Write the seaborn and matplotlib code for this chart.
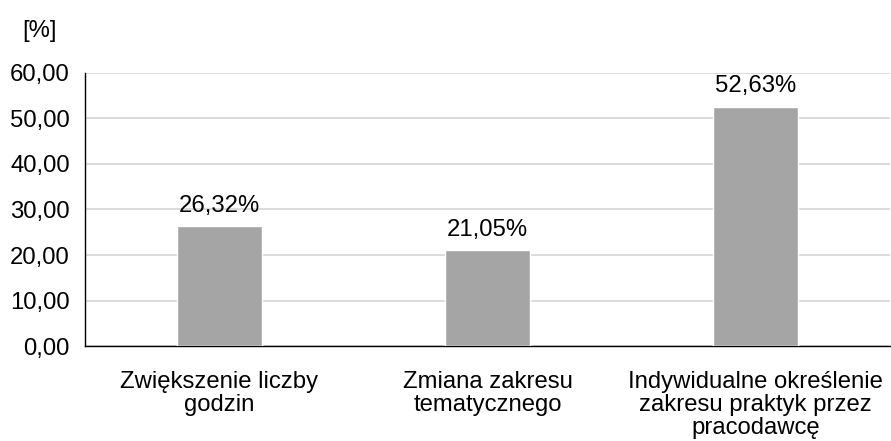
import numpy as np
import seaborn as sns
import pandas as pd
import matplotlib.pyplot as plt

categories = ["Zwiększenie liczby\ngodzin",
              "Zmiana zakresu\ntematycznego",
              "Indywidualne określenie\nzakresu praktyk przez\npracodawcę"]
values = [26.32, 21.05, 52.63]

df = pd.DataFrame({"kat": categories, "val": values})

sns.set_theme(style="white")
plt.rcParams['font.family'] = ['Liberation Sans', 'DejaVu Sans']

fs = 17.2
fig = plt.figure(figsize=(8.91, 4.41), dpi=100)
ax = fig.add_axes([0.0954, 0.2154, 0.9035, 0.6191])

sns.barplot(data=df, x="kat", y="val", color="#A5A5A5", width=0.317,
            saturation=1, ax=ax, zorder=3)

for i, v in enumerate(values):
    ax.annotate(f"{v:.2f}%".replace(".", ","), (i, v), xytext=(0, 7),
                textcoords="offset points", ha="center", va="bottom",
                fontsize=fs, color="black")

ax.set_ylim(0, 60)
ax.set_yticks(np.arange(0, 61, 10))
ax.set_yticklabels([f"{t:.2f}".replace(".", ",") for t in np.arange(0, 61, 10)],
                   fontsize=fs, color="black")
ax.set_xlim(-0.5, 2.5)
ax.tick_params(axis='x', labelsize=fs, labelcolor="black", length=0, pad=18)
ax.tick_params(axis='y', length=0, pad=11)
for lab in ax.get_xticklabels():
    lab.set_linespacing(1.06)
ax.set_xlabel("")
ax.set_ylabel("")
ax.yaxis.grid(True, color="#D9D9D9", linewidth=1.3, zorder=0)
ax.set_axisbelow(True)
for s in ["top", "right"]:
    ax.spines[s].set_visible(False)
for s in ["left", "bottom"]:
    ax.spines[s].set_color("black")
    ax.spines[s].set_linewidth(1)

fig.text(0.025, 0.93, "[%]", fontsize=fs, ha="left", va="center", color="black")

fig.savefig("out.png", dpi=100)
